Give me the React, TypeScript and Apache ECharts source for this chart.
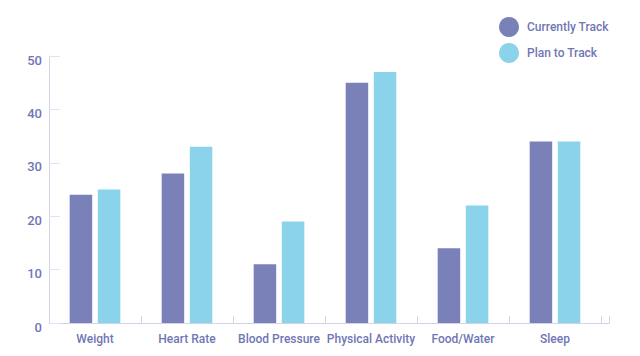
import React, { useEffect, useRef } from "react";
import * as echarts from "echarts";

const categories = ["Weight", "Heart Rate", "Blood Pressure", "Physical Activity", "Food/Water", "Sleep"];
const currentlyTrack = [24, 28, 11, 45, 14, 34];
const planToTrack = [25, 33, 19, 47, 22, 34];
const seriesNames = ["Currently Track", "Plan to Track"];

const LABEL = "#7076b5";
const AXIS = "#d3d3e6";
const FONT = "Roboto, 'Open Sans', sans-serif";

export default function App() {
  const ref = useRef<HTMLDivElement>(null);
  useEffect(() => {
    if (!ref.current) return;
    const chart = echarts.init(ref.current, undefined, { renderer: "svg" });
    chart.setOption({
      animation: false,
      backgroundColor: "#ffffff",
      textStyle: { fontFamily: FONT },
      legend: {
        orient: "vertical",
        left: 494,
        top: 12,
        icon: "circle",
        itemWidth: 20,
        itemHeight: 20,
        itemGap: 6,
        textStyle: { color: LABEL, fontSize: 12, fontWeight: 500, fontFamily: FONT, padding: [0, 0, 0, 3] },
        data: seriesNames,
      },
      grid: { left: 49, right: 39, top: 56, bottom: 33, containLabel: false },
      xAxis: {
        type: "category",
        data: categories,
        axisLine: { show: true, lineStyle: { color: AXIS, width: 1 } },
        axisTick: { show: true, inside: true, length: 7, lineStyle: { color: AXIS } },
        axisLabel: { color: LABEL, fontSize: 12, fontWeight: 500, fontFamily: FONT, margin: 10, interval: 0, hideOverlap: false },
      },
      yAxis: {
        type: "value",
        min: 0,
        max: 50,
        interval: 10,
        splitLine: { show: false },
        axisLine: { show: true, lineStyle: { color: AXIS, width: 1 } },
        axisTick: { show: true, inside: true, length: 11, lineStyle: { color: "#e2e2f0" } },
        axisLabel: { color: LABEL, fontSize: 13, fontWeight: 500, fontFamily: FONT, margin: 7, verticalAlign: "top", lineHeight: 8 },
      },
      graphic: [
        { type: "line", shape: { x1: 601, y1: 323.5, x2: 609.5, y2: 323.5 }, style: { stroke: AXIS, lineWidth: 1 } },
        { type: "line", shape: { x1: 609.5, y1: 316, x2: 609.5, y2: 323.5 }, style: { stroke: AXIS, lineWidth: 1 } },
      ],
      series: [
        {
          name: seriesNames[0],
          type: "bar",
          data: currentlyTrack,
          barWidth: 22.5,
          barGap: "25%",
          itemStyle: { color: "#7981b8" },
        },
        {
          name: seriesNames[1],
          type: "bar",
          data: planToTrack,
          barWidth: 22.5,
          itemStyle: { color: "#8bd3ea" },
        },
      ],
    });
    return () => chart.dispose();
  }, []);
  return <div ref={ref} style={{ width: 640, height: 356, position: "absolute", left: 0, top: 0 }} />;
}
